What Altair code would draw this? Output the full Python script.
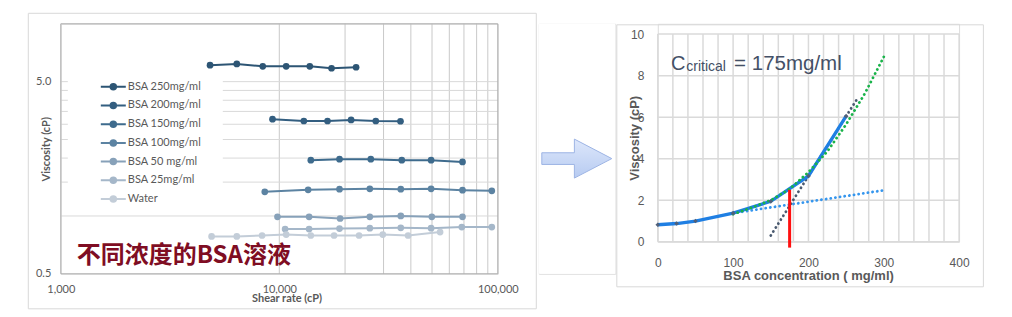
import altair as alt
import pandas as pd

# ---------------- Left chart: viscosity vs shear rate ----------------
series = ["BSA 250mg/ml", "BSA 200mg/ml", "BSA 150mg/ml", "BSA 100mg/ml",
          "BSA 50 mg/ml", "BSA 25mg/ml", "Water"]
series_colors = ["#2d5574", "#335e80", "#3e6b8d", "#5c83a2", "#87a1b9", "#a5b7c9", "#c3cdd8"]

shear_250 = [4820, 6390, 8400, 10750, 13790, 17340, 22460]
visc_250 = [6.09, 6.18, 6.01, 6.01, 6.01, 5.87, 5.94]
shear_200 = [9310, 12950, 16620, 21310, 27640, 35860]
visc_200 = [3.19, 3.12, 3.12, 3.16, 3.12, 3.11]
shear_150 = [13940, 18860, 26230, 36360, 49520, 68940]
visc_150 = [1.95, 1.975, 1.975, 1.95, 1.95, 1.91]
shear_100 = [8580, 13550, 18860, 25960, 35970, 49520, 68940, 93880]
visc_100 = [1.335, 1.367, 1.379, 1.384, 1.379, 1.384, 1.362, 1.351]
shear_50 = [9810, 13690, 18980, 25960, 35970, 49890, 68940]
visc_50 = [0.99, 0.99, 0.97, 0.99, 1.0, 0.99, 0.99]
shear_25 = [10630, 13690, 18860, 25960, 35970, 49520, 68430, 93880]
visc_25 = [0.854, 0.854, 0.86, 0.864, 0.867, 0.864, 0.875, 0.875]
shear_water = [4900, 6390, 8340, 10750, 13940, 17810, 23180, 29760, 38860, 54430]
visc_water = [0.782, 0.782, 0.791, 0.80, 0.791, 0.791, 0.791, 0.80, 0.791, 0.824]

left_x_ticks = [1000, 10000, 100000]
left_y_ticks = [0.5, 5.0]
left_x_grid = [10000, 20000, 30000, 40000, 50000, 60000, 70000, 80000, 90000]
left_y_grid = [1.0, 1.5, 2.0, 2.5, 3.0, 3.5, 4.0, 4.5, 5.0]

# ---------------- Right chart: viscosity vs concentration ----------------
conc = [0, 25, 50, 100, 150, 200, 250]
conc_visc = [0.82, 0.88, 1.0, 1.38, 1.95, 3.17, 6.05]
green_x = [100, 125, 150, 175, 200, 225, 250, 275, 300]
green_y = [1.33, 1.65, 2.0, 2.54, 3.35, 4.35, 5.65, 7.15, 8.9]
grey_x = [150, 265]
grey_y = [0.3, 6.9]
lblue_x = [100, 300]
lblue_y = [1.38, 2.48]
red_x = [175]
red_y = [-0.28]
red_y2 = [2.5]
right_x_ticks = [0, 100, 200, 300, 400]
right_y_ticks = [0, 2, 4, 6, 8, 10]
right_x_grid = [0, 20, 40, 60, 80, 100, 120, 140, 160, 180, 200, 220, 240, 260, 280, 300,
                320, 340, 360, 380, 400]
right_y_grid = [0, 2, 4, 6, 8, 10]

GREY = "#595959"
one = pd.DataFrame({"k": [0]})

# ================= LEFT =================
W1, H1 = 437, 250
xs1 = alt.Scale(type="log", domain=[1000, 100000], nice=False)
ys1 = alt.Scale(type="log", domain=[0.5, 10], nice=False)
ax1 = alt.Axis(
    values=left_x_ticks, format=",", grid=False, ticks=False, tickSize=0, domain=False,
    labelFlush=False, labelFont="Lato", labelFontSize=11, labelColor=GREY, labelPadding=10,
    title="Shear rate (cP)", titleFont="Lato", titleFontSize=11, titleFontWeight="bold",
    titleColor=GREY, titleX=225.7, titleY=24.7, titleBaseline="middle", titleAlign="center")
ay1 = alt.Axis(
    values=left_y_ticks, format=".1f", grid=False, ticks=False, tickSize=0, domain=False,
    labelFont="Lato", labelFontSize=11, labelColor=GREY, labelPadding=10,
    title="Viscosity (cP)", titleFont="Lato", titleFontSize=11, titleFontWeight="bold",
    titleColor=GREY, titleX=-14.7, titleY=125, titleAngle=270, titleBaseline="middle",
    titleAlign="center")


def X1(f):
    return alt.X(f, scale=xs1, axis=ax1)


def Y1(f):
    return alt.Y(f, scale=ys1, axis=ay1)


shears = [shear_250, shear_200, shear_150, shear_100, shear_50, shear_25, shear_water]
viscs = [visc_250, visc_200, visc_150, visc_100, visc_50, visc_25, visc_water]
rows = []
for name, sx, vy in zip(series, shears, viscs):
    for a, b in zip(sx, vy):
        rows.append({"series": name, "shear": a, "visc": b})
df_left = pd.DataFrame(rows)

frame1 = alt.Chart(one).mark_rect(fill="transparent", stroke="#d9d9d9", strokeWidth=1).encode(
    x=alt.value(-32.5), x2=alt.value(475.5), y=alt.value(-10.5), y2=alt.value(285))
vgrid1 = alt.Chart(pd.DataFrame({"g": left_x_grid})).mark_rule(color="#c9c9c9", strokeWidth=1).encode(
    x=X1("g:Q"), y=alt.value(0), y2=alt.value(H1))
hgrid1 = alt.Chart(pd.DataFrame({"g": left_y_grid})).mark_rule(color="#d9d9d9", strokeWidth=1).encode(
    y=Y1("g:Q"), x=alt.value(0), x2=alt.value(W1))
cover1 = alt.Chart(one).mark_rect(fill="white").encode(
    x=alt.value(7), x2=alt.value(162), y=alt.value(53), y2=alt.value(182))
border1 = alt.Chart(one).mark_rect(fill="transparent", stroke="#ababab", strokeWidth=1).encode(
    x=alt.value(0), x2=alt.value(W1), y=alt.value(0), y2=alt.value(H1))

legend_path = "M-2.5,0H2.5M0.55,0A0.55,0.55,0,1,1,-0.55,0A0.55,0.55,0,1,1,0.55,0Z"
color1 = alt.Color("series:N", scale=alt.Scale(domain=series, range=series_colors),
                   legend=alt.Legend(title=None, orient="none", legendX=46.5, legendY=57, padding=0,
                                     symbolType=legend_path, symbolSize=100, symbolStrokeWidth=2,
                                     symbolOpacity=1, labelFont="Lato", labelFontSize=11,
                                     labelColor=GREY, labelOffset=8.5, rowPadding=4.7))

lines1 = alt.Chart(df_left).mark_line(strokeWidth=2).encode(
    x=X1("shear:Q"), y=Y1("visc:Q"), color=color1, detail="series:N")
points1 = alt.Chart(df_left).mark_point(filled=True, size=45, opacity=1).encode(
    x=X1("shear:Q"), y=Y1("visc:Q"), color=color1)

cn_text = alt.Chart(one).mark_text(text="不同浓度的BSA溶液", align="left", baseline="middle",
                                   font="Noto Sans CJK SC", fontSize=24, fontWeight="bold",
                                   color="#7f0d23").encode(x=alt.value(16), y=alt.value(232))

left = alt.layer(frame1, vgrid1, hgrid1, cover1, border1, lines1, points1, cn_text).properties(
    width=W1, height=H1)

# ================= ARROW =================
arrow_path = ("M-1,-0.167L-0.069,-0.167L-0.069,-0.557L1,0L-0.069,0.557"
              "L-0.069,0.167L-1,0.167Z")
arrow_bg = alt.Chart(one).mark_rect(fill="white").encode(
    x=alt.value(0), x2=alt.value(76.5), y=alt.value(0), y2=alt.value(250))
arrow = alt.Chart(one).mark_point(
    shape=arrow_path, size=4900, filled=True, opacity=1,
    fill=alt.LinearGradient(gradient="linear", x1=0, y1=0, x2=0, y2=1,
                            stops=[alt.GradientStop(color="#dde7fb", offset=0),
                                   alt.GradientStop(color="#b7cbf1", offset=1)]),
    stroke="#9db4e4", strokeWidth=1).encode(x=alt.value(38), y=alt.value(134.8))
mid = alt.layer(arrow_bg, arrow).properties(width=76.5, height=250)

# ================= RIGHT =================
W2, H2 = 301.3, 218
TOP2 = 10.3
xs2 = alt.Scale(domain=[0, 400], nice=False)
ys2 = alt.Scale(domain=[0, 10], range=[H2, TOP2], nice=False)
FONT2 = "Liberation Sans"
ax2 = alt.Axis(
    values=right_x_ticks, grid=False, ticks=False, tickSize=0, domain=False, labelFlush=False,
    labelFont=FONT2, labelFontSize=12, labelColor=GREY, labelPadding=15.5,
    title="BSA concentration ( mg/ml)", titleFont=FONT2, titleFontSize=13, titleFontWeight="bold",
    titleColor=GREY, titleX=150.3, titleY=33.3, titleBaseline="middle", titleAlign="center")
ay2 = alt.Axis(
    values=right_y_ticks, grid=False, ticks=False, tickSize=0, domain=False,
    labelFont=FONT2, labelFontSize=12, labelColor=GREY, labelPadding=14,
    title="Viscosity (cP)", titleFont=FONT2, titleFontSize=13, titleFontWeight="bold",
    titleColor=GREY, titleX=-23.7, titleY=114, titleAngle=270, titleBaseline="middle",
    titleAlign="center")


def X2(f):
    return alt.X(f, scale=xs2, axis=ax2)


def Y2(f):
    return alt.Y(f, scale=ys2, axis=ay2)


frame2 = alt.Chart(one).mark_rect(fill="transparent", stroke="#d9d9d9", strokeWidth=1).encode(
    x=alt.value(-41), x2=alt.value(325.6), y=alt.value(1), y2=alt.value(263))
vgrid2 = alt.Chart(pd.DataFrame({"g": right_x_grid})).mark_rule(color="#dadada", strokeWidth=1.5).encode(
    x=X2("g:Q"), y=alt.value(TOP2), y2=alt.value(H2))
hgrid2 = alt.Chart(pd.DataFrame({"g": right_y_grid})).mark_rule(color="#dadada", strokeWidth=1.5).encode(
    y=Y2("g:Q"), x=alt.value(0), x2=alt.value(W2))

df_main = pd.DataFrame({"x": conc, "y": conc_visc})
df_green = pd.DataFrame({"x": green_x, "y": green_y})
df_grey = pd.DataFrame({"x": grey_x, "y": grey_y})
df_lblue = pd.DataFrame({"x": lblue_x, "y": lblue_y})
df_red = pd.DataFrame({"x": red_x, "y": red_y, "y2": red_y2})

DOTS = [0.1, 4.6]
lblue = alt.Chart(df_lblue).mark_line(color="#3596ee", strokeWidth=2.8, strokeDash=DOTS,
                                      strokeCap="round").encode(x=X2("x:Q"), y=Y2("y:Q"))
greyl = alt.Chart(df_grey).mark_line(color="#4a5a70", strokeWidth=2.8, strokeDash=DOTS,
                                     strokeCap="round").encode(x=X2("x:Q"), y=Y2("y:Q"))
mainl = alt.Chart(df_main).mark_line(color="#1f7fe3", strokeWidth=3.3).encode(x=X2("x:Q"), y=Y2("y:Q"))
mainp = alt.Chart(df_main).mark_point(shape="diamond", filled=True, size=22, color="#50607a",
                                      opacity=1).encode(x=X2("x:Q"), y=Y2("y:Q"))
greenl = alt.Chart(df_green).mark_line(color="#19b34a", strokeWidth=2.8, strokeDash=DOTS,
                                       strokeCap="round").encode(x=X2("x:Q"), y=Y2("y:Q"))
redl = alt.Chart(df_red).mark_rule(color="#ff1010", strokeWidth=3).encode(
    x=X2("x:Q"), y=Y2("y:Q"), y2="y2:Q")

ann_c = alt.Chart(one).mark_text(text="C", align="left", baseline="alphabetic", font=FONT2,
                                 fontSize=20, color="#445066").encode(x=alt.value(13.3), y=alt.value(46))
ann_sub = alt.Chart(one).mark_text(text="critical", align="left", baseline="alphabetic", font=FONT2,
                                   fontSize=14, color="#445066").encode(x=alt.value(28.5), y=alt.value(47.5))
ann_eq = alt.Chart(one).mark_text(text="= 175mg/ml", align="left", baseline="alphabetic", font=FONT2,
                                  fontSize=20.5, color="#445066").encode(x=alt.value(76.3), y=alt.value(46))

right = alt.layer(frame2, vgrid2, hgrid2, lblue, greyl, mainl, greenl, mainp, redl,
                  ann_c, ann_sub, ann_eq).properties(width=W2, height=H2)

chart = alt.hconcat(left, mid, right, spacing=0).properties(
    padding={"left": 26.8, "top": 11.8, "right": 0, "bottom": 0}
).configure_view(stroke="transparent").configure(background="white")

chart.save("out.html", embed_options={"renderer": "svg", "actions": False})
